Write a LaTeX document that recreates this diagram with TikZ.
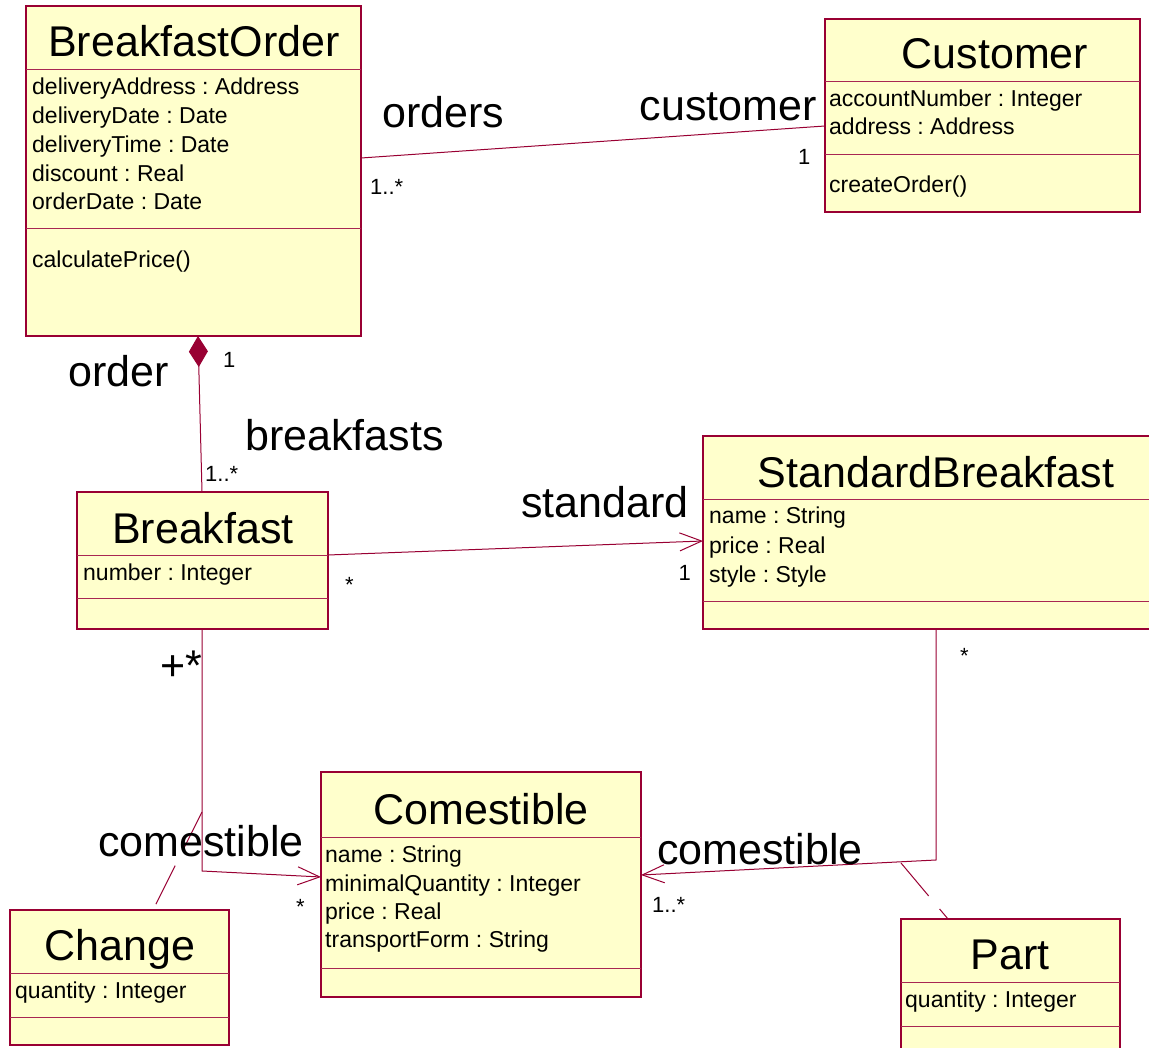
\documentclass[tikz,border=0pt]{standalone}
\usepackage{fontspec}
\setmainfont{Liberation Sans}
\usetikzlibrary{arrows.meta}
\definecolor{rose}{HTML}{990033}
\definecolor{fillc}{HTML}{FFFFCC}
\frenchspacing
\tikzset{
  cls/.style={draw=rose, fill=fillc, line width=1.5pt, inner sep=0pt, outer sep=0pt, anchor=north west},
  divl/.style={draw=rose!85, line width=1pt},
  ttl/.style={font=\fontsize{43}{48}\selectfont, anchor=base, inner sep=0pt},
  attr/.style={font=\fontsize{23}{27}\selectfont, anchor=base west, inner sep=0pt},
  role/.style={font=\fontsize{43}{48}\selectfont, anchor=base west, inner sep=0pt},
  mult/.style={font=\fontsize{22}{26}\selectfont, anchor=base west, inner sep=0pt},
  conn/.style={draw=rose, line width=1pt},
  openarrow/.style={-{Straight Barb[length=22pt,width=18pt]}},
  assoc/.style={draw=rose, line width=1pt, dash pattern=on 43pt off 17pt},
}
\begin{document}
\begin{tikzpicture}[x=1pt,y=-1pt]
\clip (0,0) rectangle (1149,1048);
\fill[white] (0,0) rectangle (1149,1048);

% ---------- BreakfastOrder
\node[cls, minimum width=335pt, minimum height=330pt] (bo) at (26,6) {};
\draw[divl] (bo.west |- 0,70) -- (bo.east |- 0,70);
\draw[divl] (bo.west |- 0,229) -- (bo.east |- 0,229);
\node[ttl] (bo-t) at (194,57) {BreakfastOrder};
\node[attr] (bo-a1) at (32,95) {deliveryAddress : Address};
\node[attr] (bo-a2) at (32,124) {deliveryDate : Date};
\node[attr] (bo-a3) at (32,153) {deliveryTime : Date};
\node[attr] (bo-a4) at (32,182) {discount : Real};
\node[attr] (bo-a5) at (32,210) {orderDate : Date};
\node[attr] (bo-o1) at (32,268) {calculatePrice()};

% ---------- Customer
\node[cls, minimum width=315pt, minimum height=193pt] (cu) at (825,19) {};
\draw[divl] (cu.west |- 0,82) -- (cu.east |- 0,82);
\draw[divl] (cu.west |- 0,155) -- (cu.east |- 0,155);
\node[ttl] (cu-t) at (995,69) {Customer};
\node[attr] (cu-a1) at (829,107) {accountNumber : Integer};
\node[attr] (cu-a2) at (829,135) {address : Address};
\node[attr] (cu-o1) at (829,193) {createOrder()};

% ---------- Breakfast
\node[cls, minimum width=251pt, minimum height=137pt] (bf) at (77,492) {};
\draw[divl] (bf.west |- 0,555) -- (bf.east |- 0,555);
\draw[divl] (bf.west |- 0,598) -- (bf.east |- 0,598);
\node[ttl] (bf-t) at (203,543) {Breakfast};
\node[attr] (bf-a1) at (83,580) {number : Integer};

% ---------- StandardBreakfast
\node[cls, minimum width=466pt, minimum height=193pt] (sb) at (703,436) {};
\draw[divl] (sb.west |- 0,499) -- (sb.east |- 0,499);
\draw[divl] (sb.west |- 0,601) -- (sb.east |- 0,601);
\node[ttl] (sb-t) at (936,487) {StandardBreakfast};
\node[attr] (sb-a1) at (709,523) {name : String};
\node[attr] (sb-a2) at (709,553) {price : Real};
\node[attr] (sb-a3) at (709,582) {style : Style};

% ---------- Comestible
\node[cls, minimum width=320pt, minimum height=225pt] (co) at (321,772) {};
\draw[divl] (co.west |- 0,837) -- (co.east |- 0,837);
\draw[divl] (co.west |- 0,968) -- (co.east |- 0,968);
\node[ttl] (co-t) at (481,824) {Comestible};
\node[attr] (co-a1) at (325,862) {name : String};
\node[attr] (co-a2) at (325,891) {minimalQuantity : Integer};
\node[attr] (co-a3) at (325,919) {price : Real};
\node[attr] (co-a4) at (325,947) {transportForm : String};

% ---------- Change
\node[cls, minimum width=219pt, minimum height=135pt] (ch) at (10,910) {};
\draw[divl] (ch.west |- 0,973) -- (ch.east |- 0,973);
\draw[divl] (ch.west |- 0,1017) -- (ch.east |- 0,1017);
\node[ttl] (ch-t) at (120,960) {Change};
\node[attr] (ch-a1) at (15,998) {quantity : Integer};

% ---------- Part
\node[cls, minimum width=219pt, minimum height=150pt] (pa) at (901,919) {};
\draw[divl] (pa.west |- 0,982) -- (pa.east |- 0,982);
\draw[divl] (pa.west |- 0,1026) -- (pa.east |- 0,1026);
\node[ttl] (pa-t) at (1010,969) {Part};
\node[attr] (pa-a1) at (905,1007) {quantity : Integer};

% ---------- connectors
\draw[conn] (bo.east |- 0,158) -- (cu.west |- 0,126);
\draw[conn, {Diamond[length=31pt,width=19pt]}-] (198,0 |- bo.south) -- (202,0 |- bf.north);
\draw[conn, openarrow] (bf.east |- 0,555) -- (sb.west |- 0,541);
\coordinate (k1) at (202,871);
\coordinate (k2) at (936,860);
\coordinate (a1) at (202,812);
\coordinate (a2) at (901,863);
\draw[conn, openarrow] (202,0 |- bf.south) -- (k1) -- (co.west |- 0,877);
\draw[conn, openarrow] (936,0 |- sb.south) -- (k2) -- (co.east |- 0,875);
\draw[assoc] (a1) -- (153,0 |- ch.north);
\draw[assoc] (a2) -- (948,0 |- pa.north);

% ---------- role names
\node[role] (r1) at (382,128) {orders};
\node[role, anchor=base east] (r2) at (817,121) {customer};
\node[role] (r3) at (68,387) {order};
\node[role] (r4) at (245,450) {breakfasts};
\node[role, anchor=base east] (r5) at (689,517) {standard};
\node[role] (r6) at (160,680) {+*};
\node[role] (r7) at (98,856) {comestible};
\node[role] (r8) at (657,864) {comestible};

% ---------- multiplicities
\node[mult] (m1) at (370,195) {1..*};
\node[mult] (m2) at (798,165) {1};
\node[mult] (m3) at (223,368) {1};
\node[mult] (m4) at (205,482) {1..*};
\node[mult] (m5) at (345,592) {*};
\node[mult, anchor=base east] (m6) at (691,580) {1};
\node[mult] (m7) at (960,663) {*};
\node[mult] (m8) at (296,914) {*};
\node[mult] (m9) at (652,912) {1..*};
\end{tikzpicture}
\end{document}
